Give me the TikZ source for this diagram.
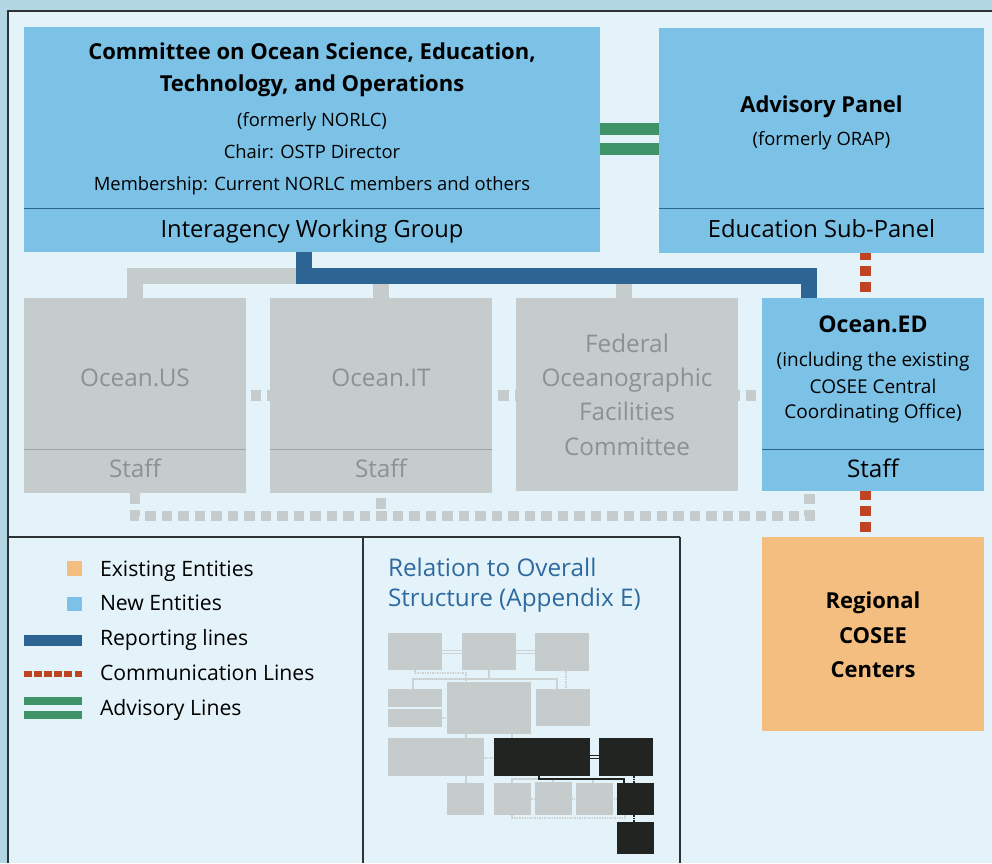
\documentclass[tikz,border=0pt]{standalone}
\usepackage{fontspec}
\setmainfont{Open Sans}
\definecolor{outerbg}{RGB}{179,214,227}
\definecolor{panelbg}{RGB}{228,243,250}
\definecolor{newblue}{RGB}{124,194,230}
\definecolor{grayb}{RGB}{198,203,203}
\definecolor{graytext}{RGB}{142,145,145}
\definecolor{graydiv}{RGB}{160,164,164}
\definecolor{repblue}{RGB}{44,100,148}
\definecolor{comred}{RGB}{191,68,34}
\definecolor{advgreen}{RGB}{62,148,103}
\definecolor{orangeb}{RGB}{244,190,128}
\definecolor{titleblue}{RGB}{47,106,158}
\definecolor{darkbox}{RGB}{33,36,33}
\definecolor{minil}{RGB}{205,210,210}
\definecolor{framec}{RGB}{45,50,52}
\newcommand\fTitle{\fontsize{22}{26}\selectfont\bfseries}
\newcommand\fTitleB{\fontsize{23}{27}\selectfont\bfseries}
\newcommand\fSub{\fontsize{18.4}{22}\selectfont}
\newcommand\fMid{\fontsize{23.7}{28}\selectfont}
\newcommand\fRel{\fontsize{24.3}{28}\selectfont}
\newcommand\fGray{\fontsize{24.3}{28}\selectfont}
\newcommand\fLeg{\fontsize{21.2}{25}\selectfont}
\newcommand\fEd{\fontsize{19}{23}\selectfont}
\tikzset{
  boxbase/.style={anchor=north west, inner sep=0pt, outer sep=0pt, draw=none},
  newbox/.style={boxbase, fill=newblue},
  graybox/.style={boxbase, fill=grayb},
  oldbox/.style={boxbase, fill=orangeb},
  minig/.style={boxbase, fill=grayb},
  minik/.style={boxbase, fill=darkbox},
  txt/.style={anchor=base, inner sep=0pt, outer sep=0pt},
  rep/.style={draw=repblue, line width=16pt},
  grayline/.style={draw=grayb, line width=16pt},
  graydot/.style={draw=grayb, line width=10.5pt, dash pattern=on 10.5pt off 6pt},
  comdot/.style={draw=comred, line width=11pt, dash pattern=on 10pt off 6pt},
  advline/.style={draw=advgreen, line width=12.5pt, double=panelbg, double distance=7.7pt},
  divblue/.style={draw=repblue, line width=1pt},
  divgray/.style={draw=graydiv, line width=1pt},
  framel/.style={draw=framec, line width=1.5pt},
  ml/.style={draw=minil, line width=1.6pt},
  mdot/.style={draw=minil, line width=1.6pt, dash pattern=on 1.5pt off 1pt},
  mdouble/.style={draw=minil, line width=1pt, double=panelbg, double distance=1.4pt},
}
\begin{document}
\begin{tikzpicture}[x=1pt,y=-1pt]
\useasboundingbox (0,0) rectangle (992,863);
\fill[outerbg] (0,0) rectangle (992,863);
\fill[panelbg] (8,11) rectangle (992,863);
\draw[framel] (8,863) -- (8,11) -- (992,11);

% main boxes
\node[newbox, minimum width=576pt, minimum height=225pt] (comm) at (24,27) {};
\node[newbox, minimum width=325pt, minimum height=225pt] (advp) at (659,28) {};
\node[graybox, minimum width=222pt, minimum height=195pt] (ous) at (24,298) {};
\node[graybox, minimum width=222pt, minimum height=195pt] (oit) at (270,298) {};
\node[graybox, minimum width=222pt, minimum height=193pt] (fofc) at (516,298) {};
\node[newbox, minimum width=222pt, minimum height=193pt] (oced) at (762,298) {};
\node[oldbox, minimum width=222pt, minimum height=194pt] (rcc) at (762,537) {};

% dividers
\draw[divblue] (comm.west |- 0,208) -- (comm.east |- 0,208);
\draw[divblue] (advp.west |- 0,208) -- (advp.east |- 0,208);

% gray dotted lines (behind boxes)
\draw[graydot, dash phase=12pt] (ous.east) -- (ous.east -| oced.west);
\draw[graydot] (ous.south) -- (135,516) -- (809.5,516) -- (809.5,0 |- oced.south);
\draw[graydot, dash phase=11.5pt] (oit.south) -- (oit.south |- 0,516);
% boxes again over the middle dotted line
\fill[grayb] (ous.north west) rectangle (ous.south east);
\fill[grayb] (oit.north west) rectangle (oit.south east);
\fill[grayb] (fofc.north west) rectangle (fofc.south east);
\fill[newblue] (oced.north west) rectangle (oced.south east);
\draw[divgray] (ous.west |- 0,449) -- (ous.east |- 0,449);
\draw[divgray] (oit.west |- 0,449) -- (oit.east |- 0,449);
\draw[divblue] (oced.west |- 0,449) -- (oced.east |- 0,449);

% gray and blue reporting lines
\draw[grayline] (ous.north) -- (135,276) -- (809,276);
\draw[grayline] (oit.north |- 0,276) -- (oit.north);
\draw[grayline] (623.5,276) -- (623.5,0 |- fofc.north);
\draw[rep] (303.5,0 |- comm.south) -- (303.5,276) -- (809,276) -- (809,0 |- oced.north);

% communication lines
\draw[comdot, dash phase=3pt] (865.5,0 |- advp.south) -- (865.5,0 |- oced.north);
\draw[comdot, dash phase=1pt] (865.5,0 |- oced.south) -- (865.5,0 |- rcc.north);

% advisory line
\draw[advline] (comm.east |- 0,138.9) -- (advp.west |- 0,138.9);

% texts: committee
\node[txt, font=\fTitle] (c1) at (312,59) {Committee on Ocean Science, Education,};
\node[txt, font=\fTitle] (c2) at (312,91) {Technology, and Operations};
\node[txt, font=\fSub] (c3) at (312,126) {(formerly NORLC)};
\node[txt, font=\fSub] (c4) at (312,158) {Chair: OSTP Director};
\node[txt, font=\fSub] (c5) at (312,190) {Membership: Current NORLC members and others};
\node[txt, font=\fMid] (c6) at (312,237.5) {Interagency Working Group};
% advisory
\node[txt, font=\fTitle] (a1) at (821.5,112) {Advisory Panel};
\node[txt, font=\fSub] (a2) at (821.5,145) {(formerly ORAP)};
\node[txt, font=\fMid] (a3) at (821.5,237.5) {Education Sub-Panel};
% gray boxes
\node[txt, font=\fGray, text=graytext] (u1) at (135,386.5) {Ocean.US};
\node[txt, font=\fGray, text=graytext] (u2) at (135,477.5) {Staff};
\node[txt, font=\fGray, text=graytext] (i1) at (381,386.5) {Ocean.IT};
\node[txt, font=\fGray, text=graytext] (i2) at (381,477.5) {Staff};
\node[txt, font=\fGray, text=graytext] (f1) at (627,352.5) {Federal};
\node[txt, font=\fGray, text=graytext] (f2) at (627,386.5) {Oceanographic};
\node[txt, font=\fGray, text=graytext] (f3) at (627,420.5) {Facilities};
\node[txt, font=\fGray, text=graytext] (f4) at (627,455.5) {Committee};
% ocean.ed
\node[txt, font=\fTitleB] (e1) at (873,332) {Ocean.ED};
\node[txt, font=\fEd] (e2) at (873,366) {(including the existing};
\node[txt, font=\fEd] (e3) at (873,393) {COSEE Central};
\node[txt, font=\fEd] (e4) at (873,418) {Coordinating Office)};
\node[txt, font=\fGray] (e5) at (873,477.5) {Staff};
% regional
\node[txt, font=\fTitle] (r1) at (873,608) {Regional};
\node[txt, font=\fTitle] (r2) at (873,643) {COSEE};
\node[txt, font=\fTitle] (r3) at (873,677) {Centers};

% legend frame
\draw[framel] (8,537) -- (680,537);
\draw[framel] (363,537) -- (363,863);
\draw[framel] (680,537) -- (680,863);

% legend
\node[boxbase, fill=orangeb, minimum width=15pt, minimum height=15pt] (lg1) at (67,561) {};
\node[boxbase, fill=newblue, minimum width=15pt, minimum height=14pt] (lg2) at (67,597) {};
\coordinate (lr1) at (24,640.5); \coordinate (lr2) at (82,640.5);
\draw[draw=repblue, line width=11pt] (lr1) -- (lr2);
\coordinate (lc1) at (24,674); \coordinate (lc2) at (82,674);
\draw[draw=comred, line width=6.6pt, dash pattern=on 7.5pt off 2.6pt] (lc1) -- (lc2);
\coordinate (la1) at (24,708); \coordinate (la2) at (82,708);
\draw[draw=advgreen, line width=8.5pt, double=panelbg, double distance=5.7pt] (la1) -- (la2);
\node[txt, anchor=base west, font=\fLeg] (lt1) at (100,576.5) {Existing Entities};
\node[txt, anchor=base west, font=\fLeg] (lt2) at (100,610.5) {New Entities};
\node[txt, anchor=base west, font=\fLeg] (lt3) at (100,645.5) {Reporting lines};
\node[txt, anchor=base west, font=\fLeg] (lt4) at (100,680.5) {Communication Lines};
\node[txt, anchor=base west, font=\fLeg] (lt5) at (100,715.5) {Advisory Lines};

% relation title
\node[txt, anchor=base west, font=\fRel, text=titleblue] (rt1) at (388,576.5) {Relation to Overall};
\node[txt, anchor=base west, font=\fRel, text=titleblue] (rt2) at (388,606.5) {Structure (Appendix E)};

% mini diagram connectors
\draw[mdouble] (442,652) -- (462,652);
\draw[mdouble] (516,652) -- (535,652);
\draw[mdot] (415,670) -- (415,673) -- (466,673) -- (466,682);
\draw[ml] (489,670) -- (489,679);
\draw[ml] (413,689) -- (413,679) -- (557,679) -- (557,689);
\draw[mdot] (566,671) -- (566,689);
\draw[mdot] (442,718) -- (447,718);
\draw[ml] (466,734) -- (466,738);
\draw[ml] (512,734) -- (512,738);
\draw[mdot] (484,758) -- (494,758);
\draw[ml] (466,776) -- (466,783);
\draw[ml] (512,783) -- (512,779) -- (624,779);
\draw[ml] (553,779) -- (553,782);
\draw[ml] (593,779) -- (593,783);
\draw[mdot] (531,799) -- (617,799);
\draw[mdot] (512,815) -- (512,818) -- (625,818) -- (625,815);
\draw[draw=darkbox, line width=1.2pt, double=panelbg, double distance=1.4pt] (590,757) -- (599,757);
\draw[draw=darkbox, line width=2pt] (539,776) -- (539,779) -- (624,779) -- (624,783);
\draw[draw=darkbox, line width=1.6pt, dash pattern=on 1.5pt off 1pt] (634,776) -- (634,783);
\draw[draw=darkbox, line width=1.6pt, dash pattern=on 1.5pt off 1pt] (634,815) -- (634,822);

% mini diagram boxes
\node[minig, minimum width=54pt, minimum height=37pt] (m1) at (388,633) {};
\node[minig, minimum width=54pt, minimum height=37pt] (m2) at (462,633) {};
\node[minig, minimum width=54pt, minimum height=38pt] (m3) at (535,633) {};
\node[minig, minimum width=54pt, minimum height=18pt] (m4) at (388,689) {};
\node[minig, minimum width=54pt, minimum height=18pt] (m5) at (388,709) {};
\node[minig, minimum width=84pt, minimum height=52pt] (m6) at (447,682) {};
\node[minig, minimum width=54pt, minimum height=37pt] (m7) at (536,689) {};
\node[minig, minimum width=96pt, minimum height=38pt] (m8) at (388,738) {};
\node[minik, minimum width=96pt, minimum height=38pt] (m9) at (494,738) {};
\node[minik, minimum width=54pt, minimum height=38pt] (m10) at (599,738) {};
\node[minig, minimum width=37pt, minimum height=32pt] (m11) at (447,783) {};
\node[minig, minimum width=37pt, minimum height=32pt] (m12) at (494,783) {};
\node[minig, minimum width=37pt, minimum height=33pt] (m13) at (535,782) {};
\node[minig, minimum width=37pt, minimum height=32pt] (m14) at (576,783) {};
\node[minik, minimum width=37pt, minimum height=32pt] (m15) at (617,783) {};
\node[minik, minimum width=37pt, minimum height=32pt] (m16) at (617,822) {};
\end{tikzpicture}
\end{document}
